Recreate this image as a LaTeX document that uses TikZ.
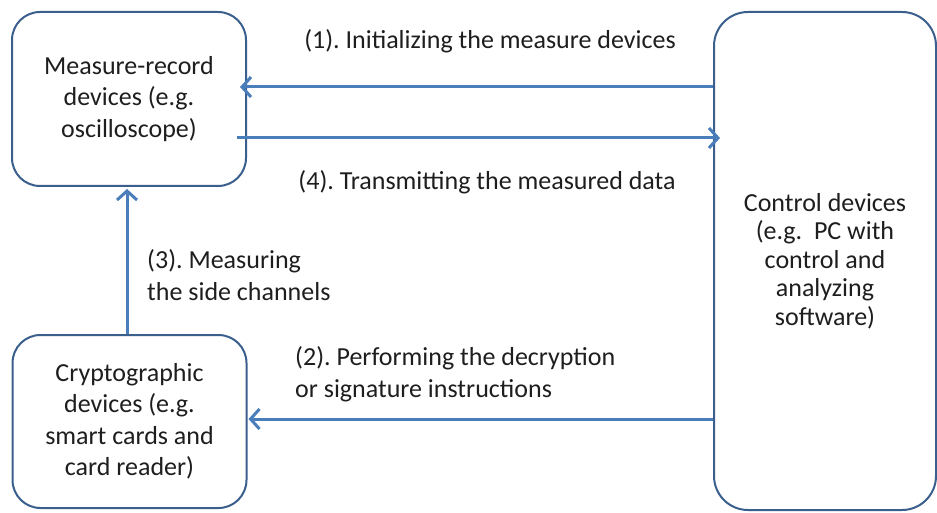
\documentclass[tikz,border=0pt]{standalone}
\usepackage{fontspec}
\setmainfont{Carlito}
\usetikzlibrary{arrows.meta,calc}
\definecolor{boxline}{HTML}{3A5F8C}
\definecolor{arrowblue}{HTML}{4A7EBB}
\definecolor{txt}{HTML}{1E1E1E}
\tikzset{
  devbox/.style={draw=boxline, line width=2pt, rounded corners=28pt, fill=white,
    align=center, text=txt, inner sep=0pt,
    font=\frenchspacing\fontsize{26}{31.5}\selectfont},
  flow/.style={draw=arrowblue, line width=3pt,
    -{Straight Barb[length=9pt,width=20pt,line width=3pt]}},
  flowlabel/.style={text=txt, inner sep=0pt, font=\frenchspacing\fontsize{26}{31.5}\selectfont}
}
\begin{document}
\begin{tikzpicture}[x=1pt,y=-1pt]
\useasboundingbox (0,0) rectangle (937,513);
\node[devbox, minimum width=234pt, minimum height=174pt] (mr) at (129,99)
  {Measure-record\\devices (e.g.\\oscilloscope)};
\node[devbox, minimum width=234pt, minimum height=173pt] (cr) at (129.5,421.5)
  {Cryptographic\\devices (e.g.\\smart cards and\\card reader)};
\node[devbox, rounded corners=34pt, minimum width=222pt, minimum height=498pt,
  font=\frenchspacing\fontsize{26}{28.5}\selectfont] (ct) at (825,261)
  {Control devices\\(e.g.\ \ PC with\\control and\\analyzing\\software)};
% arrows
\draw[flow] ([yshift=12pt]ct.west |- mr.east) -- ([xshift=-7pt,yshift=12pt]mr.east);
\draw[flow] ([xshift=-10pt,yshift=-39pt]mr.east) -- ([xshift=7pt,yshift=-39pt]ct.west |- mr.east);
\draw[flow] ([yshift=2.5pt]ct.west |- cr.east) -- ([xshift=1pt,yshift=2.5pt]cr.east);
\draw[flow] ([xshift=-2.5pt]cr.north) -- ([xshift=-2.5pt,yshift=-2pt]cr.north |- mr.south);
% labels
\node[flowlabel] (l1) at (490,41) {(1). Initializing the measure devices};
\node[flowlabel] (l4) at (487,182) {(4). Transmitting the measured data};
\node[flowlabel, align=left, anchor=west] (l3) at (147,275) {(3). Measuring\\the side channels};
\node[flowlabel, align=left, anchor=west] (l2) at (295,374) {(2). Performing the decryption\\or signature instructions};
\end{tikzpicture}
\end{document}
